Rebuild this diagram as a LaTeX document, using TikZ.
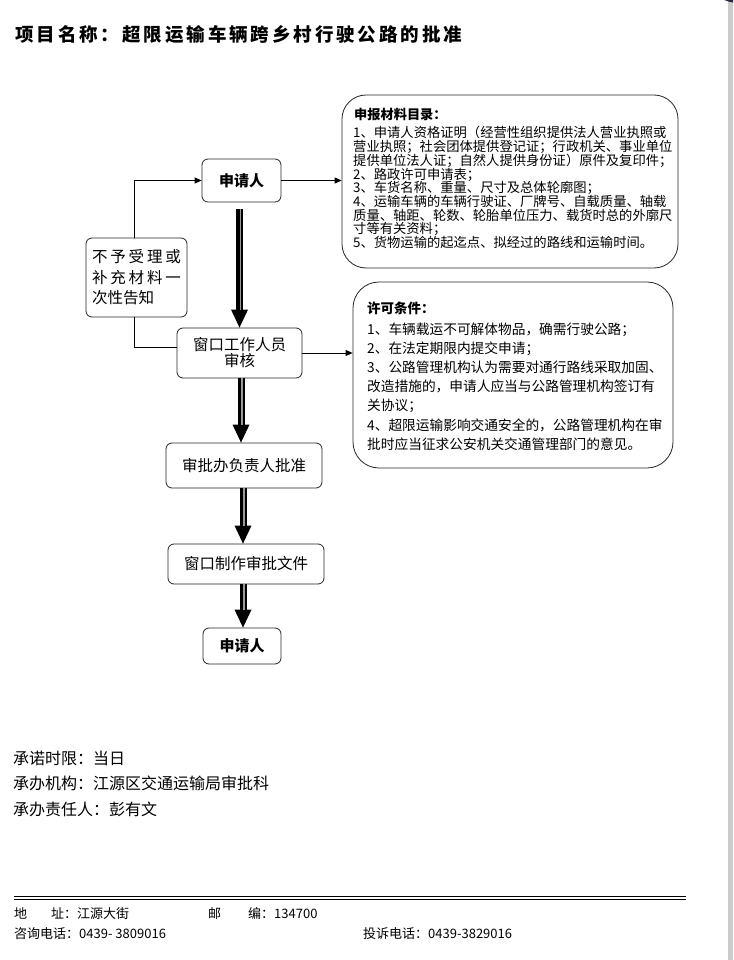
\documentclass[tikz,border=0pt]{standalone}
\usepackage{fontspec}
\setmainfont{Noto Sans CJK SC}
\usetikzlibrary{arrows.meta}
\begin{document}
\begin{tikzpicture}[x=1pt,y=-1pt,
  box/.style={draw=black!85, line width=0.8pt, rounded corners=6pt, inner sep=0pt, align=center},
  bigbox/.style={draw=black!85, line width=0.8pt, rounded corners=24pt, inner sep=0pt},
  thinarrow/.style={line width=0.8pt, -{Triangle[length=7pt,width=6pt]}},
  plainline/.style={line width=0.8pt},
  bigarrow/.style={line width=7pt, -{Triangle[length=18pt,width=17pt,line width=0pt]},
     postaction={draw=black!40, line width=1.6pt, -, shorten >=18pt, transform canvas={xshift=1pt}}},
  txt/.style={inner sep=0pt, anchor=base west},
  bodyfont/.style={font=\fontsize{15.5}{16.5}\selectfont}]
\useasboundingbox (0,0) rectangle (733,960);
\clip (0,0) rectangle (733,960);
\fill[white] (0,0) rectangle (733,960);
\fill[black!20] (728,0) rectangle (733,960);
\fill[black!85!blue!70!gray] (748,-10) ellipse [x radius=34, y radius=14];

% title
\node[txt, font=\bfseries\fontsize{18.5}{20}\selectfont] (title) at (15,42)
  {\makebox[447pt][s]{项 目 名 称 ： 超 限 运 输 车 辆 跨 乡 村 行 驶 公 路 的 批 准}};

% flow boxes
\node[box, minimum width=79pt, minimum height=43pt, font=\fontsize{15}{18}\selectfont\bfseries] (app1) at (241.5,180.5) {申请人};
\node[box, minimum width=101pt, minimum height=79pt, font=\fontsize{15.5}{20.5}\selectfont, align=left] (refuse) at (136.5,277.5)
  {\makebox[89pt][s]{不 予 受 理 或}\\\makebox[89pt][s]{补 充 材 料 一}\\次性告知};
\node[box, minimum width=125pt, minimum height=50pt, font=\fontsize{15.5}{16}\selectfont] (win) at (239.5,353) {窗口工作人员\\审核};
\node[box, minimum width=156pt, minimum height=45pt, bodyfont] (approve) at (244,465.5) {审批办负责人批准};
\node[box, minimum width=156pt, minimum height=40pt, bodyfont] (make) at (246,564) {窗口制作审批文件};
\node[box, minimum width=78pt, minimum height=36pt, font=\fontsize{15}{18}\selectfont\bfseries] (app2) at (242,646) {申请人};

% material list
\node[bigbox, minimum width=336pt, minimum height=173pt] (list) at (510,181.5) {};
\node[txt, font=\bfseries\fontsize{13.2}{15}\selectfont] (listh) at (354,120) {申报材料目录：};
\foreach \t [count=\i] in {1、申请人资格证明（经营性组织提供法人营业执照或,%
营业执照；社会团体提供登记证；行政机关、事业单位,%
提供单位法人证；自然人提供身份证）原件及复印件；,%
2、路政许可申请表；,%
3、车货名称、重量、尺寸及总体轮廓图；,%
4、运输车辆的车辆行驶证、厂牌号、自载质量、轴载,%
质量、轴距、轮数、轮胎单位压力、载货时总的外廓尺,%
寸等有关资料；,%
5、货物运输的起迄点、拟经过的路线和运输时间。}
  \node[txt, font=\fontsize{13.3}{15}\selectfont] (list\i) at (353,{138+13.7*(\i-1)}) {\t};

% conditions
\node[bigbox, minimum width=320pt, minimum height=186pt, rounded corners=26pt] (cond) at (513,375) {};
\node[txt, font=\bfseries\fontsize{13.5}{15}\selectfont] (condh) at (367,313.3) {许可条件：};
\foreach \t [count=\i] in {1、车辆载运不可解体物品，确需行驶公路；,%
2、在法定期限内提交申请；,%
3、公路管理机构认为需要对通行路线采取加固、,%
改造措施的，申请人应当与公路管理机构签订有,%
关协议；,%
4、超限运输影响交通安全的，公路管理机构在审,%
批时应当征求公安机关交通管理部门的意见。}
  \node[txt, font=\fontsize{13.7}{15}\selectfont] (cond\i) at (367,{334.3+19.17*(\i-1)}) {\t};

% connectors
\draw[thinarrow] (app1.east) -- (app1.east -| list.west);
\draw[thinarrow] ([xshift=-2.5pt]refuse.north) |- (app1.west);
\draw[plainline] ([yshift=6pt]win.west) -| ([xshift=-2.5pt]refuse.south);
\draw[thinarrow] (win.east) -- (win.east -| cond.west);
\draw[bigarrow, shorten <=7pt] ([xshift=-2pt]app1.south) -- ([xshift=-2pt]app1.south |- win.north);
\draw[bigarrow] ([xshift=1.5pt]win.south) -- ([xshift=1.5pt]win.south |- approve.north);
\draw[bigarrow] ([xshift=-1pt]approve.south) -- ([xshift=-1pt]approve.south |- make.north);
\draw[bigarrow] ([xshift=-3pt]make.south) -- ([xshift=-3pt]make.south |- app2.north);

% info text
\node[txt, font=\fontsize{16}{18}\selectfont] (t1) at (13,764) {承诺时限：当日};
\node[txt, font=\fontsize{16}{18}\selectfont] (t2) at (13,789) {承办机构：江源区交通运输局审批科};
\node[txt, font=\fontsize{16}{18}\selectfont] (t3) at (13,815) {承办责任人：彭有文};

% footer
\draw[line width=1.1pt] (14,896.3) -- (686,896.3);
\draw[line width=1.1pt] (14,899.7) -- (686,899.7);
\node[txt, font=\fontsize{13}{15}\selectfont] (f1) at (14,918) {地};
\node[txt, font=\fontsize{13}{15}\selectfont] (f2) at (51,918) {址：江源大街};
\node[txt, font=\fontsize{13}{15}\selectfont] (f3) at (208,918) {邮};
\node[txt, font=\fontsize{13}{15}\selectfont] (f4) at (248,918) {编：134700};
\node[txt, font=\fontsize{13}{15}\selectfont] (f5) at (14,938) {咨询电话：0439- 3809016};
\node[txt, font=\fontsize{13}{15}\selectfont] (f6) at (363,938) {投诉电话：0439-3829016};
\end{tikzpicture}
\end{document}
